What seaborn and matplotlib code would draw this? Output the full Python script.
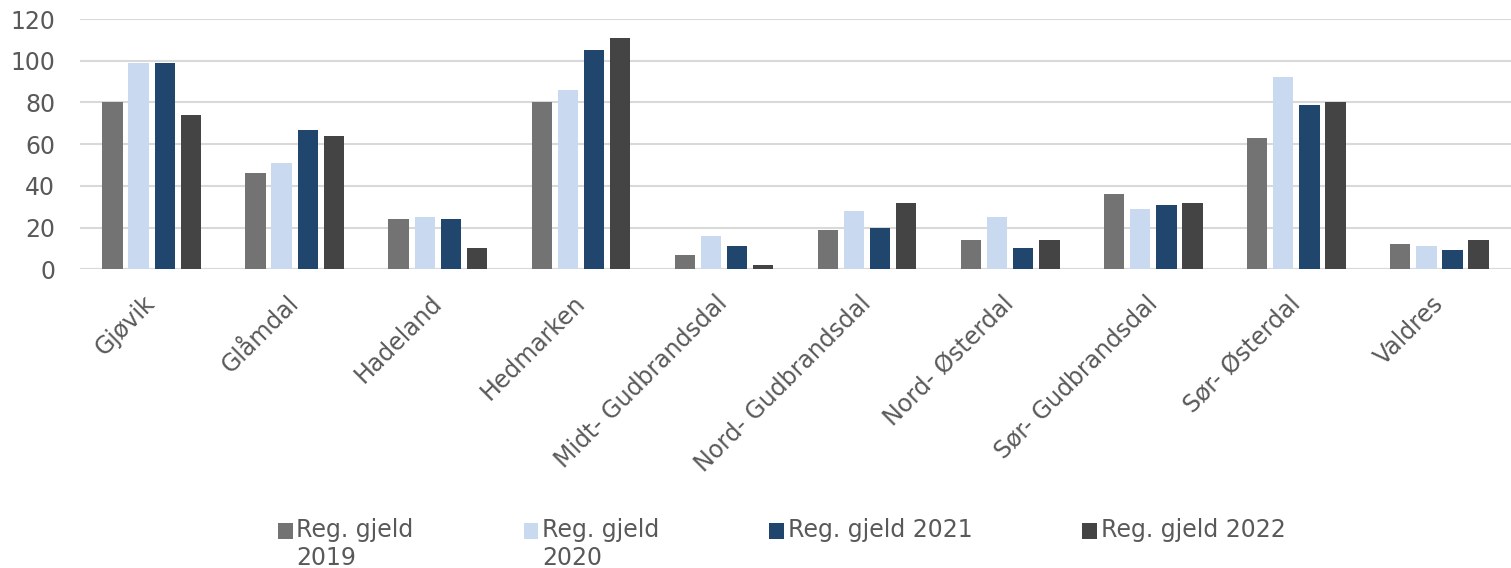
import matplotlib
matplotlib.use("Agg")
import matplotlib.pyplot as plt
import matplotlib.patches as mpatches
from matplotlib.legend_handler import HandlerPatch
import seaborn as sns
import pandas as pd

regions = ["Gjøvik", "Glåmdal", "Hadeland", "Hedmarken", "Midt- Gudbrandsdal",
           "Nord- Gudbrandsdal", "Nord- Østerdal", "Sør- Gudbrandsdal", "Sør- Østerdal", "Valdres"]
series_names = ["Reg. gjeld 2019", "Reg. gjeld 2020", "Reg. gjeld 2021", "Reg. gjeld 2022"]
legend_labels = ["Reg. gjeld\n2019", "Reg. gjeld\n2020", "Reg. gjeld 2021\n", "Reg. gjeld 2022\n"]
gjeld_2019 = [80, 46, 24, 80, 7, 19, 14, 36, 63, 12]
gjeld_2020 = [99, 51, 25, 86, 16, 28, 25, 29, 92, 11]
gjeld_2021 = [99, 67, 24, 105, 11, 20, 10, 31, 79, 9]
gjeld_2022 = [74, 64, 10, 111, 2, 32, 14, 32, 80, 14]
colors = ["#737373", "#C9DAF0", "#21466E", "#444444"]
yticks = [0, 20, 40, 60, 80, 100, 120]

rows = []
for name, vals in zip(series_names, [gjeld_2019, gjeld_2020, gjeld_2021, gjeld_2022]):
    for r, v in zip(regions, vals):
        rows.append({"region": r, "serie": name, "value": v})
df = pd.DataFrame(rows)

sns.set_style("white")
plt.rcParams['font.family'] = ['DejaVu Sans']

FS = 17
TXT = "#595959"

fig = plt.figure(figsize=(15.11, 5.68), dpi=100)
ax = fig.add_axes([0.053, 0.526, 0.947, 0.4405])
sns.barplot(data=df, x="region", y="value", hue="serie", palette=colors,
            saturation=1, width=0.73, gap=0.22, ax=ax, edgecolor="none", legend=True)

ax.set_ylim(0, 120)
ax.set_yticks(yticks)
ax.set_xlim(-0.5, len(regions) - 0.5)
ax.yaxis.grid(True, color="#D9D9D9", linewidth=1.5)
ax.set_axisbelow(True)
for s in ["top", "right", "left", "bottom"]:
    ax.spines[s].set_visible(False)
ax.axhline(0, color="#D9D9D9", linewidth=1.5, zorder=0.5)
ax.set_xlabel("")
ax.set_ylabel("")
ax.tick_params(axis="both", length=0, labelsize=FS, colors=TXT)
ax.tick_params(axis="y", pad=18)
ax.tick_params(axis="x", pad=22)
plt.setp(ax.get_xticklabels(), rotation=45, ha="right", va="center", rotation_mode="anchor")


class UpHandler(HandlerPatch):
    def __init__(self, shift, **kw):
        super().__init__(**kw)
        self.shift = shift

    def _create_patch(self, legend, orig_handle, xdescent, ydescent, width, height, fontsize):
        return mpatches.Rectangle(xy=(-xdescent, -ydescent + self.shift * fontsize),
                                  width=width, height=height)


handles, _ = ax.get_legend_handles_labels()
ax.get_legend().remove()
leg = fig.legend(handles, legend_labels, loc="upper left", bbox_to_anchor=(278 / 1511, 1 - 518 / 568),
                 ncol=4, frameon=False, fontsize=FS, labelcolor=TXT, borderpad=0, borderaxespad=0,
                 handlelength=0.62, handleheight=0.62, handletextpad=0.15,
                 columnspacing=4.67, alignment="left",
                 handler_map={mpatches.Rectangle: UpHandler(0.6), mpatches.Patch: UpHandler(0.6)})

fig.savefig("out.png", dpi=100)
